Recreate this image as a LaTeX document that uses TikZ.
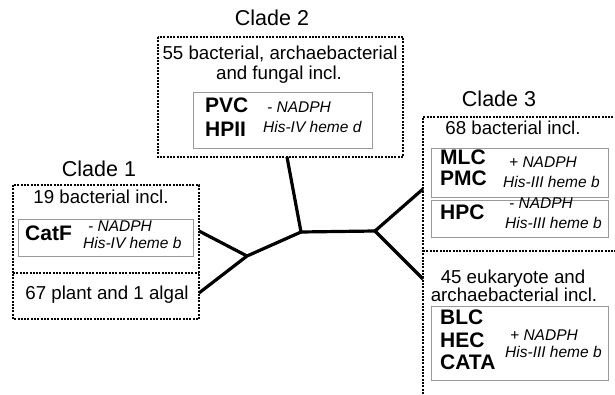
\documentclass[tikz,border=0pt]{standalone}
\usepackage{fontspec}
\setmainfont{Liberation Sans}
\definecolor{boxgray}{HTML}{9A9A9A}
\usetikzlibrary{positioning}
\newcommand{\cladefont}{\fontsize{21.5}{24}\selectfont}
\newcommand{\inclfont}{\fontsize{18.7}{20}\selectfont}
\newcommand{\namefont}{\fontsize{21}{23}\selectfont\bfseries}
\newcommand{\propfont}{\fontsize{15.5}{17}\selectfont\itshape}
\tikzset{
  cladebox/.style={line width=1.3pt, dash pattern=on 2pt off 1.3pt},
  groupbox/.style={draw=boxgray, line width=0.9pt},
  branch/.style={line width=3.2pt},
  plaintext/.style={inner sep=0pt, anchor=mid},
  enzyme/.style={font=\namefont, inner sep=0pt, anchor=mid west},
  property/.style={font=\propfont, inner sep=0pt, anchor=mid west}
}

\begin{document}
\begin{tikzpicture}[x=1pt, y=-1pt]
  \useasboundingbox (0,0) rectangle (615,395);

  % Clade 1
  \node[plaintext, font=\cladefont] (clade1) at (99,174) {Clade 1};
  \draw[cladebox] (13,185) rectangle (199,319);
  \draw[cladebox] (13,273) -- (199,273);
  \node[plaintext, font=\inclfont] (incl19) at (101,201) {19 bacterial incl.};
  \draw[groupbox] (18,219) rectangle (193,256);
  \node[enzyme] (catf) at (25,238) {CatF};
  \node[property] (catfA) at (88,229) {- NADPH};
  \node[property] (catfB) at (83,246) {His-IV heme b};
  \node[plaintext, font=\inclfont] (incl67) at (107,297) {67 plant and 1 algal};

  % Clade 2
  \node[plaintext, font=\cladefont] (clade2) at (272,23) {Clade 2};
  \draw[cladebox] (158,37) rectangle (403,157);
  \node[plaintext, font=\inclfont] (incl55a) at (280,57) {55 bacterial, archaebacterial};
  \node[plaintext, font=\inclfont] (incl55b) at (279,77) {and fungal incl.};
  \draw[groupbox] (193,92) rectangle (372,148);
  \node[enzyme] (pvc) at (205,110) {PVC};
  \node[enzyme] (hpii) at (205,134) {HPII};
  \node[property] (pvcA) at (267,110) {- NADPH};
  \node[property] (pvcB) at (263,130) {His-IV heme d};

  % Clade 3
  \node[plaintext, font=\cladefont] (clade3) at (499,104) {Clade 3};
  \draw[cladebox] (620,117) -- (423,117) -- (423,400);
  \draw[cladebox] (423,251) -- (620,251);
  \node[plaintext, font=\inclfont] (incl68) at (513,132) {68 bacterial incl.};
  \draw[groupbox] (431,148) rectangle (608,197);
  \node[enzyme] (mlc) at (440,162) {MLC};
  \node[enzyme] (pmc) at (440,183) {PMC};
  \node[property] (mlcA) at (509,165) {+ NADPH};
  \node[property] (mlcB) at (503,185) {His-III heme b};
  \draw[groupbox] (431,200) rectangle (608,237);
  \node[enzyme] (hpc) at (440,217) {HPC};
  \node[property] (hpcA) at (509,206) {- NADPH};
  \node[property] (hpcB) at (505,226) {His-III heme b};
  \node[plaintext, font=\inclfont] (incl45a) at (513,281) {45 eukaryote and};
  \node[plaintext, font=\inclfont] (incl45b) at (514,299) {archaebacterial incl.};
  \draw[groupbox] (431,306) rectangle (608,380);
  \node[enzyme] (blc) at (440,322) {BLC};
  \node[enzyme] (hec) at (440,345) {HEC};
  \node[enzyme] (cata) at (440,367) {CATA};
  \node[property] (blcA) at (510,338) {+ NADPH};
  \node[property] (blcB) at (505,355) {His-III heme b};

  % tree
  \coordinate (j1) at (247,256);
  \coordinate (j2) at (301,232);
  \coordinate (j3) at (375,231);
  \coordinate (tip1a) at (199,231);
  \coordinate (tip1b) at (199,293);
  \coordinate (tip2) at (287,157);
  \coordinate (tip3a) at (423,189);
  \coordinate (tip3b) at (423,279);
  \draw[branch] (tip1a) -- (j1);
  \draw[branch] (tip1b) -- (j1);
  \draw[branch] (j1) -- (j2);
  \draw[branch] (tip2) -- (j2);
  \draw[branch] (j2) -- (j3);
  \draw[branch] (j3) -- (tip3a);
  \draw[branch] (j3) -- (tip3b);
\end{tikzpicture}
\end{document}
